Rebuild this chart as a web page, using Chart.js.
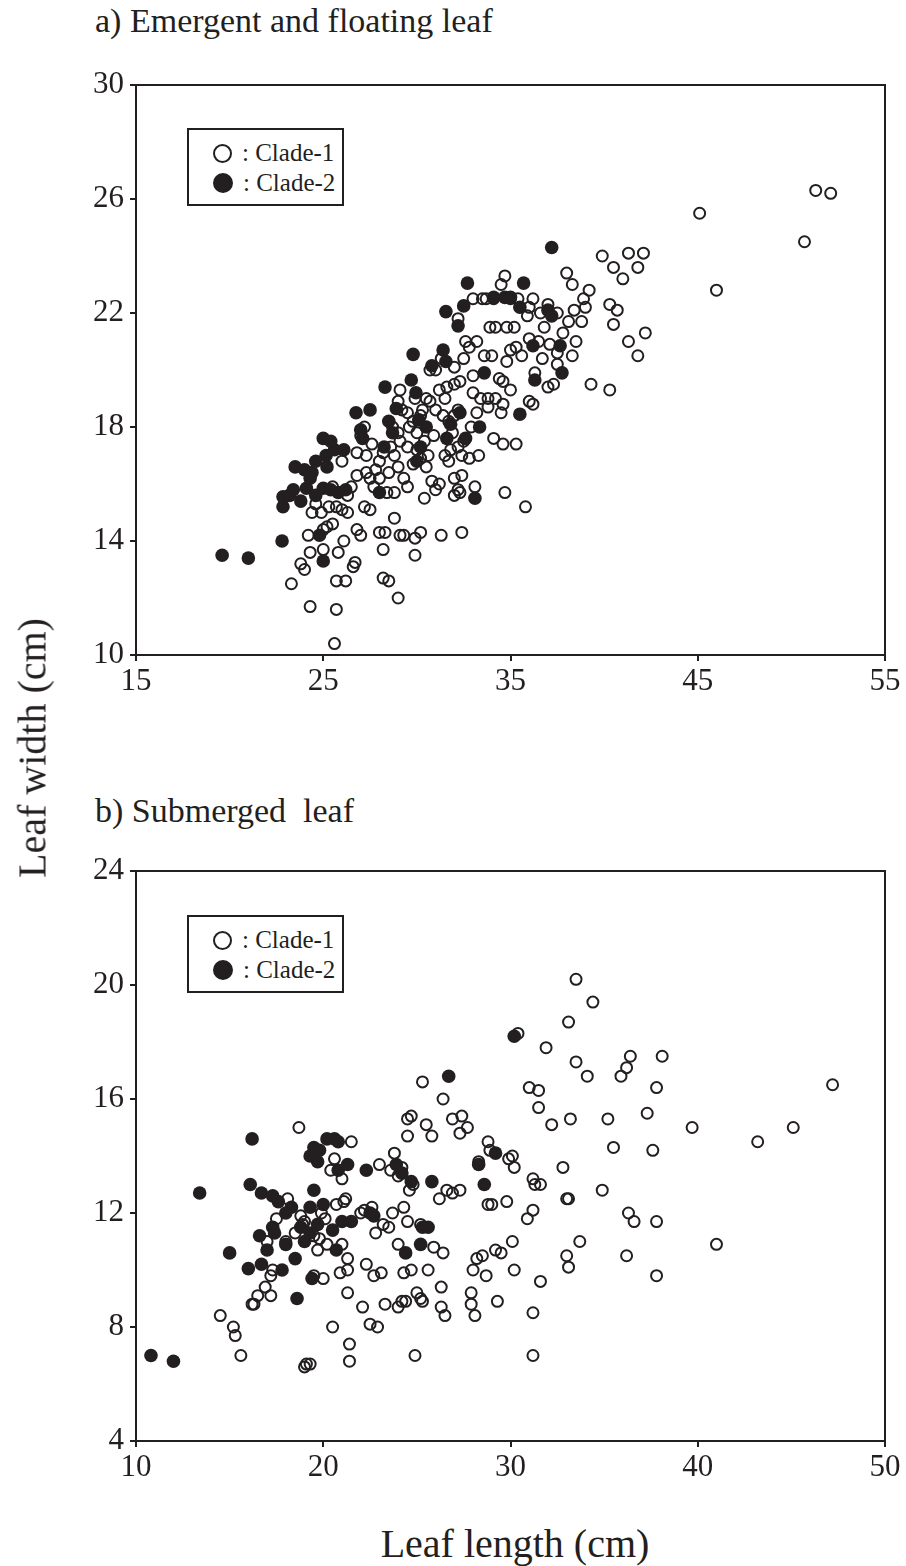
<!DOCTYPE html>
<html>
<head>
<meta charset="utf-8">
<script src="https://cdn.jsdelivr.net/npm/chart.js@4.4.1/dist/chart.umd.min.js"></script>
<style>
  body { margin: 0; background: #fff; width: 906px; height: 1566px; position: relative; overflow: hidden; }
  .cv { position: absolute; left: 0; width: 906px; height: 720px; }
  .title { position: absolute; left: 95px; font: 34px "Liberation Serif", serif; color: #231f20; white-space: nowrap; }
  .axlab { position: absolute; font: 40px "Liberation Serif", serif; color: #231f20; white-space: nowrap; }
  .legend { position: absolute; left: 187px; width: 153px; height: 74px; border: 2px solid #231f20; background: #fff;
            font: 25px "Liberation Serif", serif; color: #231f20; }
  .legend div { position: absolute; left: 24px; white-space: nowrap; line-height: 30px; }
  .legend span { display: inline-block; width: 19px; height: 19px; border-radius: 50%; box-sizing: border-box;
                 border: 2px solid #231f20; margin-right: 10px; vertical-align: -2px; }
  .legend span.f { background: #231f20; width: 20px; height: 20px; }
</style>
</head>
<body>
<div class="title" style="top:2px">a) Emergent and floating leaf</div>
<div class="title" style="top:792px">b) Submerged&nbsp; leaf</div>
<canvas id="chartA" class="cv" style="top:0px" width="906" height="720"></canvas>
<canvas id="chartB" class="cv" style="top:786px" width="906" height="720"></canvas>
<div class="legend" style="top:128px"><div style="top:8px"><span></span>: Clade-1</div><div style="top:38px"><span class="f"></span>: Clade-2</div></div>
<div class="legend" style="top:915px"><div style="top:8px"><span></span>: Clade-1</div><div style="top:38px"><span class="f"></span>: Clade-2</div></div>
<div class="axlab" style="left:32px; top:748px; transform: translate(-50%,-50%) rotate(-90deg);">Leaf width (cm)</div>
<div class="axlab" style="left:515px; top:1543px; transform: translate(-50%,-50%);">Leaf length (cm)</div>
<script>
// a) emergent and floating leaf: [length, width]
const emergentClade1 = [
  [45.1,25.5],[46.0,22.8],[50.7,24.5],[51.3,26.3],[52.1,26.2],[42.1,24.1],[41.3,24.1],[39.9,24.0],[40.5,23.6],
  [41.8,23.6],[41.0,23.2],[39.2,22.8],[42.2,21.3],[41.3,21.0],[41.8,20.5],[40.3,19.3],[39.3,19.5],[40.5,21.6],
  [40.7,22.1],[40.3,22.3],[38.0,23.4],[38.3,23.0],[38.9,22.5],[39.0,22.2],[38.4,22.1],[37.5,22.0],[38.1,21.7],
  [38.8,21.7],[37.8,21.3],[38.5,21.0],[37.1,20.9],[37.5,20.6],[38.3,20.5],[37.3,19.5],[37.0,19.4],[37.5,20.2],
  [36.2,22.5],[36.0,22.2],[35.4,22.5],[34.7,23.3],[34.1,22.5],[33.5,22.5],[34.2,21.5],[34.8,21.5],[35.2,21.5],
  [35.3,20.8],[35.0,20.7],[35.6,20.5],[36.5,21.0],[36.7,20.4],[36.0,21.1],[36.3,19.9],[34.4,19.7],[34.6,19.6],
  [34.0,20.5],[34.8,20.3],[33.6,20.5],[32.8,20.8],[32.5,20.4],[32.6,21.0],[32.2,21.8],[33.0,19.8],[33.4,19.0],
  [33.8,19.0],[34.2,19.0],[34.6,18.8],[35.0,19.3],[33.2,18.5],[33.8,18.7],[34.5,18.5],[36.2,18.8],[36.0,18.9],
  [35.3,17.4],[34.6,17.4],[34.7,15.7],[35.8,15.2],[33.3,17.0],[32.8,16.9],[32.4,17.0],[32.2,17.3],[32.5,17.5],
  [31.8,17.2],[31.5,17.0],[32.4,16.3],[32.0,16.2],[31.7,16.8],[32.3,15.7],[32.0,15.6],[32.2,15.8],[32.4,14.3],
  [31.3,14.2],[31.7,18.2],[31.4,18.4],[32.0,18.4],[32.2,18.6],[31.0,18.6],[31.2,19.3],[31.6,19.4],[32.0,19.5],
  [31.5,19.0],[32.3,19.6],[30.5,19.0],[30.3,18.6],[30.2,18.4],[29.8,18.2],[29.6,18.0],[30.0,17.8],[30.4,17.5],
  [30.9,17.7],[30.6,17.0],[30.2,16.9],[29.8,16.7],[30.5,16.6],[30.8,16.1],[31.2,16.0],[30.4,15.5],[29.5,15.9],
  [29.3,16.2],[29.0,16.6],[29.5,17.3],[29.1,17.5],[28.8,17.0],[28.2,17.1],[28.0,16.2],[27.5,16.2],[27.7,15.9],
  [27.3,16.4],[27.8,16.5],[28.4,15.7],[28.8,15.7],[28.8,14.8],[29.1,14.2],[29.3,14.2],[29.9,14.1],[30.2,14.3],
  [29.9,13.5],[28.3,14.3],[28.0,14.3],[28.2,13.7],[27.0,14.2],[26.6,13.1],[26.7,13.25],[26.1,14.0],[26.3,15.0],
  [26.0,15.1],[25.7,15.2],[25.3,15.2],[24.9,15.0],[25.5,14.6],[25.2,14.5],[25.0,14.4],[25.0,13.7],[24.3,13.6],
  [24.0,13.0],[23.8,13.2],[23.3,12.5],[25.7,12.6],[26.2,12.6],[28.2,12.7],[28.5,12.6],[29.0,12.0],[24.3,11.7],
  [25.7,11.6],[25.6,10.4],[26.5,15.9],[26.3,15.6],[26.8,16.3],[27.3,17.0],[26.8,17.1],[27.6,17.4],[27.0,17.7],
  [27.2,18.0],[28.7,18.0],[29.2,18.6],[29.1,19.3],[29.0,18.9],[29.5,18.5],[28.0,16.8],[33.7,22.5],[33.2,21.0],
  [34.5,23.0],[37.0,22.3],[36.6,22.0],[31.0,20.0],[31.3,20.4],[30.7,20.0],[32.0,20.1],[33.0,19.2],[29.0,17.8],
  [28.6,17.3],[26.0,16.8],[25.5,15.9],[24.6,15.3],[24.4,15.0],[33.0,22.5],[35.0,22.5],[36.8,21.5],[35.9,21.9],
  [33.9,21.5],[32.9,18.0],[31.9,17.8],[30.0,17.2],[28.5,16.4],[27.2,15.2],[26.8,14.4],[31.0,15.8],[33.1,15.9],
  [34.1,17.6],[30.7,18.9],[29.9,19.0],[27.5,15.1],[24.2,14.2],[25.8,13.6]
];
const emergentClade2 = [
  [19.6,13.5],[21.0,13.4],[22.8,14.0],[37.2,24.3],[22.85,15.55],[22.85,15.2],[23.4,15.8],[23.5,16.6],[24.0,16.5],
  [24.3,16.2],[24.1,15.85],[23.8,15.4],[24.6,15.6],[25.0,17.6],[25.15,17.0],[25.6,17.2],[25.2,16.6],[25.0,15.85],
  [25.4,15.8],[25.8,15.7],[26.2,15.8],[24.8,14.2],[25.0,13.3],[26.75,18.5],[27.1,17.6],[27.5,18.6],[28.3,19.4],
  [28.5,18.2],[28.25,17.3],[28.7,17.8],[28.9,18.65],[29.7,19.65],[29.95,19.2],[29.8,20.55],[30.1,18.25],[30.5,18.0],
  [30.8,20.15],[31.4,20.7],[31.55,20.3],[31.55,22.05],[32.2,21.55],[32.5,22.25],[32.6,17.6],[33.1,15.5],[32.7,23.05],
  [33.35,18.0],[33.6,19.9],[34.1,22.55],[34.7,22.55],[35.0,22.55],[35.7,23.05],[35.5,22.2],[36.2,20.85],[37.0,22.1],
  [37.65,20.85],[37.75,19.9],[36.3,19.65],[35.5,18.45],[37.2,21.9],[24.4,16.4],[25.4,17.5],[27.0,17.9],[28.0,15.7],
  [30.0,16.8],[31.8,18.1],[32.3,18.5],[31.6,17.6],[30.2,17.3],[23.2,15.6],[24.6,16.8],[26.1,17.2]
];
// b) submerged leaf: [length, width]
const submergedClade1 = [
  [14.5,8.4],[15.2,8.0],[15.3,7.7],[15.6,7.0],[16.2,8.8],[16.5,9.1],[16.9,9.4],[17.2,9.1],[17.2,9.8],[17.5,11.8],
  [18.7,15.0],[18.9,11.6],[19.0,6.6],[19.3,6.7],[19.1,6.7],[19.8,11.1],[20.0,9.7],[20.2,10.9],[20.4,13.5],[20.5,8.0],
  [20.6,13.9],[20.7,12.3],[21.0,13.2],[21.1,12.4],[21.2,12.5],[21.0,10.9],[21.3,10.4],[21.3,10.0],[21.3,9.2],[21.4,7.4],
  [21.4,6.8],[21.5,14.5],[22.0,12.0],[22.2,12.1],[22.3,10.2],[22.1,8.7],[22.5,8.1],[22.8,11.3],[22.9,8.0],[23.0,13.7],
  [23.1,9.9],[23.2,11.6],[23.3,8.8],[23.5,11.5],[23.8,14.1],[23.7,12.0],[24.0,10.9],[24.0,8.7],[24.2,8.9],[24.4,8.9],
  [24.3,9.9],[24.3,12.2],[24.5,14.7],[24.5,15.3],[24.7,15.4],[24.5,11.7],[24.7,10.0],[24.6,12.8],[24.8,13.0],[25.0,9.2],
  [25.2,9.0],[25.3,8.9],[24.9,7.0],[25.3,16.6],[25.5,15.1],[25.6,10.0],[25.8,14.7],[25.9,10.8],[26.2,12.5],[26.3,8.7],
  [26.5,8.4],[26.4,10.6],[26.3,9.4],[26.9,15.3],[27.3,14.8],[27.4,15.4],[27.3,12.8],[27.7,15.0],[26.9,12.7],[26.4,16.0],
  [27.9,9.2],[27.9,8.8],[28.0,10.0],[28.1,8.4],[28.2,10.4],[28.5,10.5],[28.3,13.8],[28.8,14.5],[28.9,14.2],[28.8,12.3],
  [29.0,12.3],[28.7,9.8],[29.2,10.7],[29.5,10.6],[29.3,8.9],[29.8,12.4],[30.1,14.0],[30.2,13.6],[30.1,11.0],[30.2,10.0],
  [30.4,18.3],[30.9,11.8],[31.0,16.4],[31.2,13.2],[31.3,13.0],[31.2,12.1],[31.2,8.5],[31.2,7.0],[31.5,16.3],[31.5,15.7],
  [31.6,9.6],[31.6,13.0],[31.9,17.8],[32.2,15.1],[32.8,13.6],[33.0,12.5],[33.1,12.5],[33.0,10.5],[33.1,10.1],[33.1,18.7],
  [33.2,15.3],[33.5,20.2],[33.5,17.3],[33.7,11.0],[34.1,16.8],[34.4,19.4],[34.9,12.8],[35.2,15.3],[35.5,14.3],[35.9,16.8],
  [36.2,17.1],[36.4,17.5],[36.2,10.5],[36.3,12.0],[36.6,11.7],[37.3,15.5],[37.6,14.2],[37.8,16.4],[38.1,17.5],[37.8,11.7],
  [37.8,9.8],[39.7,15.0],[41.0,10.9],[43.2,14.5],[45.1,15.0],[47.2,16.5],[18.0,11.0],[18.5,11.3],[19.0,11.7],[19.5,11.2],
  [19.7,10.7],[19.9,12.0],[20.1,11.8],[18.1,12.5],[16.3,8.8],[17.0,11.0],[22.6,12.2],[23.6,13.5],[24.0,13.3],[17.3,10.0],
  [19.5,9.8],[20.9,9.9],[22.7,9.8],[25.2,11.6],[26.6,12.8],[29.9,13.9],[24.2,13.6],[18.8,11.9]
];
const submergedClade2 = [
  [10.8,7.0],[12.0,6.8],[13.4,12.7],[15.0,10.6],[16.0,10.05],[16.2,14.6],[16.1,13.0],[16.6,11.2],[16.7,12.7],[16.7,10.2],
  [17.0,10.7],[17.3,12.6],[17.3,11.5],[17.4,11.3],[17.6,12.4],[17.8,10.0],[18.0,10.9],[18.3,12.2],[18.5,10.4],[18.6,9.0],
  [18.8,11.5],[19.0,11.0],[19.3,12.2],[19.3,14.0],[19.5,14.3],[19.7,13.8],[19.8,14.2],[19.5,12.8],[19.3,11.3],[19.7,11.6],
  [20.0,12.3],[19.4,9.7],[20.6,14.6],[20.8,14.5],[20.8,13.5],[20.5,11.4],[20.7,10.7],[21.0,11.7],[21.3,13.7],[21.5,11.7],
  [22.3,13.5],[22.5,12.0],[22.7,11.9],[23.9,13.7],[24.2,13.4],[24.4,10.6],[24.7,13.1],[25.3,11.5],[25.6,11.5],[25.2,10.9],
  [25.8,13.1],[26.7,16.8],[28.3,13.7],[28.6,13.0],[29.2,14.1],[30.2,18.2],[20.2,14.6],[18.0,12.0]
];

const ticksA = { x: [15, 25, 35, 45, 55], y: [10, 14, 18, 22, 26, 30] };
const ticksB = { x: [10, 20, 30, 40, 50], y: [4, 8, 12, 16, 20, 24] };

const INK = "#231f20";

const framePlugin = {
  id: "frame",
  afterDraw(chart) {
    const a = chart.chartArea, c = chart.ctx;
    c.save();
    c.strokeStyle = INK;
    c.lineWidth = 2;
    c.strokeRect(a.left, a.top, a.right - a.left, a.bottom - a.top);
    c.restore();
  }
};

function toPts(arr) { return arr.map(p => ({ x: p[0], y: p[1] })); }

function makeChart(id, c1, c2, ticks) {
  const axis = (vals, isX) => ({
    type: "linear",
    min: vals[0],
    max: vals[vals.length - 1],
    afterBuildTicks: s => { s.ticks = vals.map(v => ({ value: v })); },
    afterFit: s => { if (isX) s.height = 65; else s.width = 136; },
    grid: { drawOnChartArea: false, drawTicks: true, tickLength: 6, color: INK, lineWidth: 2 },
    border: { display: true, color: INK, width: 2 },
    ticks: {
      color: INK,
      padding: isX ? 2 : 6,
      font: { family: "Liberation Serif", size: 31 }
    }
  });
  return new Chart(document.getElementById(id), {
    type: "scatter",
    data: {
      datasets: [
        { label: "Clade-1", data: toPts(c1), pointRadius: 5.5, pointBorderWidth: 2,
          pointBackgroundColor: "rgba(255,255,255,0)", pointBorderColor: INK },
        { label: "Clade-2", data: toPts(c2), pointRadius: 6.8, pointBorderWidth: 0,
          pointBackgroundColor: INK, pointBorderColor: INK }
      ]
    },
    options: {
      responsive: false,
      animation: false,
      layout: { padding: { top: 85, right: 21, left: 0, bottom: 0 } },
      scales: { x: axis(ticks.x, true), y: axis(ticks.y, false) },
      plugins: { legend: { display: false }, tooltip: { enabled: false } }
    },
    plugins: [framePlugin]
  });
}

makeChart("chartA", emergentClade1, emergentClade2, ticksA);
makeChart("chartB", submergedClade1, submergedClade2, ticksB);
</script>
</body>
</html>
